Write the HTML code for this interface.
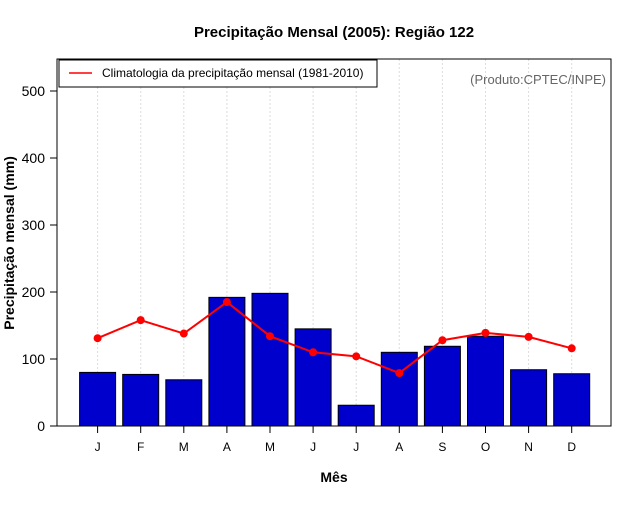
<!DOCTYPE html>
<html><head><meta charset="utf-8"><style>
body{margin:0;background:#fff;width:640px;height:500px;overflow:hidden}
svg{font-family:"Liberation Sans",sans-serif}
</style></head><body>
<svg id="chart" width="640" height="500">
<text x="334" y="37" text-anchor="middle" font-size="15" font-weight="bold">Precipitação Mensal (2005): Região 122</text>
<text x="334" y="482" text-anchor="middle" font-size="14" font-weight="bold">Mês</text>
<text transform="translate(14,243) rotate(-90)" text-anchor="middle" font-size="14" font-weight="bold">Precipitação mensal (mm)</text>
<g id="grid"></g><g id="bars"></g><g id="line"></g><g id="axes"></g>
<rect x="57" y="59" width="554" height="367" fill="none" stroke="#000"/>
<g>
<rect x="59" y="60" width="318" height="27" fill="#fff" stroke="#000"/>
<line x1="69" y1="73" x2="92" y2="73" stroke="red" stroke-width="1.5"/>
<text x="102" y="77" font-size="12">Climatologia da precipitação mensal (1981-2010)</text>
</g>
<text x="606" y="84" text-anchor="end" font-size="13" fill="#666">(Produto:CPTEC/INPE)</text>
</svg>
<script>
const months=["J","F","M","A","M","J","J","A","S","O","N","D"];
const precip=[80,77,69,192,198,145,31,110,119,134,84,78];
const clim=[131,158,138,185,134,110,104,79,128,139,133,116];
const yTicks=[0,100,200,300,400,500];
const NS="http://www.w3.org/2000/svg";
const xs=i=>97.6+i*43.1;
const ys=v=>426-v*0.67;
function mk(p,t,a){const e=document.createElementNS(NS,t);for(const k in a)e.setAttribute(k,a[k]);document.getElementById(p).appendChild(e);return e;}
months.forEach((m,i)=>{
 const g=mk('grid','line',{x1:xs(i),x2:xs(i),y1:59,y2:426,stroke:'#ddd','stroke-dasharray':'2,2'});
 
 
 const b=mk('bars','rect',{x:xs(i)-18,y:ys(precip[i]),width:36,height:426-ys(precip[i]),fill:'#0000cc',stroke:'#000'});
 
 
 const t=mk('axes','line',{x1:xs(i),x2:xs(i),y1:426,y2:433,stroke:'#000'});
 
 
 const l=mk('axes','text',{x:xs(i),y:451,'text-anchor':'middle','font-size':12});
 l.textContent=m;
 
 
});
const pl=mk('line','polyline',{points:clim.map((v,i)=>xs(i)+','+ys(v)).join(' '),fill:'none',stroke:'red','stroke-width':2});


clim.forEach((v,i)=>{
 const c=mk('line','circle',{cx:xs(i),cy:ys(v),r:4,fill:'red'});
 
 
});
yTicks.forEach(v=>{
 const t=mk('axes','line',{x1:50,x2:57,y1:ys(v),y2:ys(v),stroke:'#000'});
 
 
 const l=mk('axes','text',{x:45,y:ys(v)+5,'text-anchor':'end','font-size':14});
 l.textContent=v;
 
 
});
</script>
</body></html>
